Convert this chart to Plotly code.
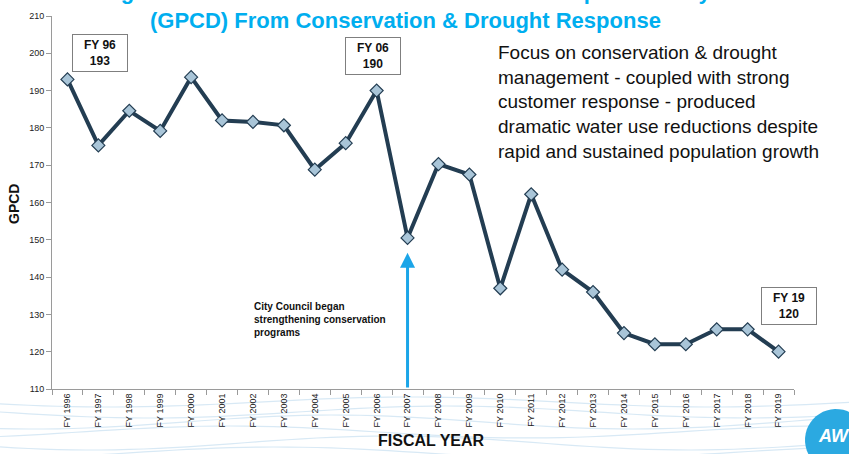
import numpy as np
import plotly.graph_objects as go

years = [f"FY {y}" for y in range(1996, 2020)]
gpcd = [193, 175.3, 184.6, 179.2, 193.6, 182, 181.6, 180.7, 168.8, 175.9, 190,
        150.5, 170.3, 167.5, 137, 162.2, 142, 136, 125, 122, 122, 126, 126, 120]

W, H = 849, 454
L, R, T, B = 52, 55, 16, 65
PW, PH = W - L - R, H - T - B

fig = go.Figure()
fig.add_trace(go.Scatter(
    x=years, y=gpcd, mode="lines+markers",
    line=dict(color="#233D52", width=4),
    marker=dict(symbol="diamond", size=10, color="#A9C5D8",
                line=dict(color="#233D52", width=1.2)),
    showlegend=False, cliponaxis=False))

def px(x):
    return (x - L) / PW
def py(y):
    return (H - B - y) / PH

shapes = []
# decorative waves at bottom (paper coords)
for k, (base, amp, ph) in enumerate([(402, 5, 0.4), (412, 6, 0.0), (422, 7, 1.2), (432, 6, 2.3), (443, 7, 0.6), (453, 6, 1.8)]):
    xs = np.linspace(0, W, 60)
    ys = base + amp * np.sin(xs / 95.0 + ph)
    d = "M " + " L ".join(f"{px(a):.4f},{py(b):.4f}" for a, b in zip(xs, ys))
    shapes.append(dict(type="path", path=d, xref="paper", yref="paper",
                       line=dict(color="#D8E9F5", width=1.2), layer="below"))

# logo circle (polygon), partly off the page like the reference
th = np.linspace(0, 2 * np.pi, 48)
cx, cy, r = 836, 440, 31
d = "M " + " L ".join(f"{px(cx + r*np.cos(t)):.4f},{py(cy + r*np.sin(t)):.4f}" for t in th) + " Z"
shapes.append(dict(type="path", path=d, xref="paper", yref="paper",
                   fillcolor="#2BA9E1", line=dict(width=0), layer="above"))

fig.update_layout(
    width=W, height=H,
    margin=dict(l=L, r=R, t=T, b=B),
    paper_bgcolor="white", plot_bgcolor="white",
    font=dict(family="Liberation Sans, Arial, sans-serif", color="#222"),
    shapes=shapes,
    xaxis=dict(type="category", range=[-0.5, 23.5], showgrid=False,
               showline=True, linecolor="#9a9a9a", linewidth=1,
               ticks="outside", ticklen=5, tickcolor="#9a9a9a",
               tickson="boundaries", tickangle=-90,
               tickfont=dict(size=9, color="#222"), zeroline=False),
    yaxis=dict(range=[110, 210], dtick=10, showgrid=False,
               showline=True, linecolor="#9a9a9a", linewidth=1,
               ticks="outside", ticklen=5, tickcolor="#9a9a9a",
               tickfont=dict(size=9, color="#222"), zeroline=False),
)

anns = []
# title (top line partly cut off, as in the reference)
anns.append(dict(text="<b>Significant Reductions in Total Gallons Per Capita Per Day<br>(GPCD) From Conservation &amp; Drought Response</b>",
                 xref="paper", yref="paper", x=px(406), y=py(35), xanchor="center", yanchor="bottom",
                 showarrow=False, font=dict(size=22, color="#00AEEF"),
                 align="center"))
anns.append(dict(text="Focus on conservation &amp; drought<br>management - coupled with strong<br>customer response - produced<br>dramatic water use reductions despite<br>rapid and sustained population growth",
                 xref="paper", yref="paper", x=px(496), y=py(40), xanchor="left", yanchor="top",
                 showarrow=False, align="left", font=dict(size=19, color="#111")))
# axis titles
anns.append(dict(text="<b>GPCD</b>", xref="paper", yref="paper", x=px(14), y=py(204),
                 xanchor="center", yanchor="middle",
                 textangle=-90, showarrow=False, font=dict(size=14, color="#111")))
anns.append(dict(text="<b>FISCAL YEAR</b>", xref="paper", yref="paper", x=px(431), y=py(440),
                 xanchor="center", yanchor="middle",
                 showarrow=False, font=dict(size=16, color="#111")))
# labelled boxes
for txt, bx, by in [("FY 96<br>193", 100, 53), ("FY 06<br>190", 373, 56), ("FY 19<br>120", 789, 306)]:
    anns.append(dict(text=f"<b>{txt}</b>", xref="paper", yref="paper", x=px(bx), y=py(by),
                     xanchor="center", yanchor="middle",
                     showarrow=False, font=dict(size=12, color="#111"),
                     bordercolor="#7f7f7f", borderwidth=1, borderpad=3, bgcolor="white", width=48))
# arrow at FY 2007
anns.append(dict(x="FY 2007", y=150.5 - 4, ax="FY 2007", ay=110, xref="x", yref="y", axref="x", ayref="y",
                 showarrow=True, arrowhead=2, arrowsize=1, arrowwidth=3, arrowcolor="#1BA5E8", text=""))
anns.append(dict(text="<b>City Council began<br>strengthening conservation<br>programs</b>",
                 xref="paper", yref="paper", x=px(252), y=py(299), xanchor="left", yanchor="top",
                 showarrow=False, align="left", font=dict(size=10, color="#111")))
# logo text
anns.append(dict(text="<b><i>AW</i></b>", xref="paper", yref="paper", x=px(834), y=py(436),
                 xanchor="center", yanchor="middle",
                 showarrow=False, font=dict(size=18, color="white")))
fig.update_layout(annotations=anns)

fig.write_html("out.html")
